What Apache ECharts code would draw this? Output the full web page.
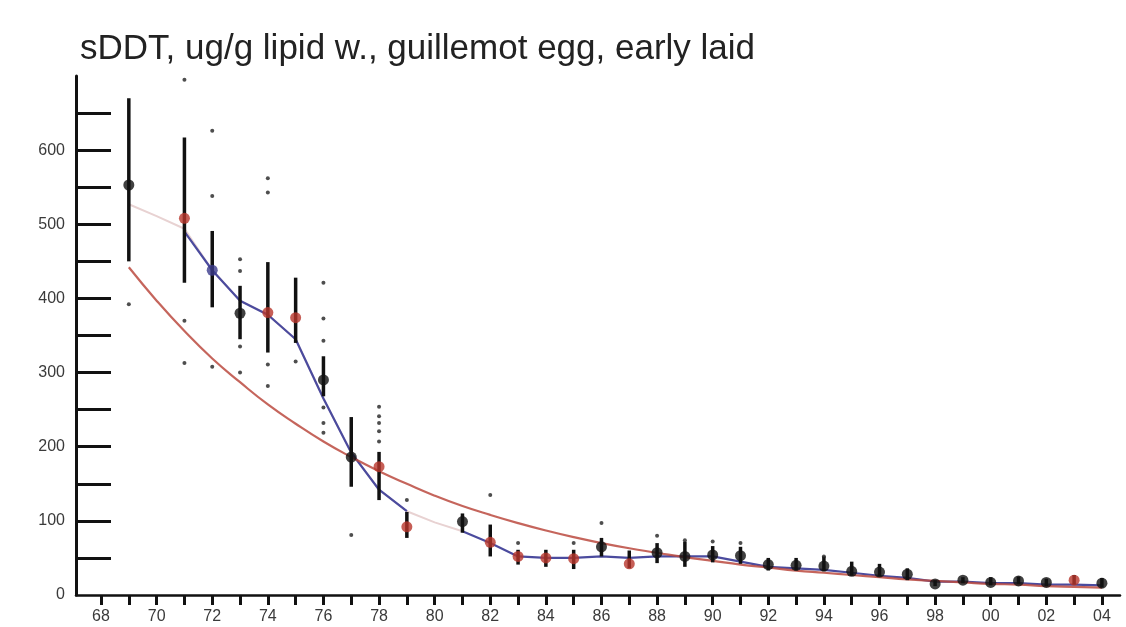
<!DOCTYPE html>
<html>
<head>
<meta charset="utf-8">
<script src="https://cdn.jsdelivr.net/npm/echarts@6/dist/echarts.min.js"></script>
<style>
  html, body { margin: 0; padding: 0; background: #fff; }
  #main { width: 1126px; height: 627px; }
</style>
</head>
<body>
<div id="main"></div>
<script>
// yearly means with their range bars; marker colour group per year
const years    = [1969, 1971, 1972, 1973, 1974, 1975, 1976, 1977, 1978, 1979, 1981, 1982, 1983, 1984, 1985, 1986, 1987, 1988, 1989, 1990, 1991, 1992, 1993, 1994, 1995, 1996, 1997, 1998, 1999, 2000, 2001, 2002, 2003, 2004];
const means    = [553, 508, 438, 380, 381, 374, 290, 186, 173, 92, 99, 71, 52, 50, 49, 65, 42, 57, 52, 54, 53, 41, 40, 39, 32, 31, 28, 15, 20, 17, 19, 17, 20, 16];
const lows     = [450, 421, 388, 345, 327, 340, 268, 146, 128, 77, 84, 52, 41, 38, 35, 52, 36, 43, 38, 44, 42, 33, 33, 32, 26, 25, 20, 12, 16, 13, 15, 12, 14, 10];
const highs    = [670, 617, 491, 417, 449, 428, 322, 240, 193, 112, 110, 95, 61, 61, 61, 77, 60, 70, 72, 66, 65, 50, 50, 52, 45, 42, 36, 20, 24, 24, 25, 22, 27, 23];
const redYears  = [1971, 1974, 1975, 1978, 1979, 1982, 1983, 1984, 1985, 1987, 2003];
const blueYears = [1972];

// single samples outside the bars
const dots = [
  [1969, 392],
  [1971, 695], [1971, 370], [1971, 313],
  [1972, 626], [1972, 538], [1972, 308],
  [1973, 453], [1973, 437], [1973, 335], [1973, 300],
  [1974, 562], [1974, 543], [1974, 311], [1974, 282],
  [1975, 315],
  [1976, 421], [1976, 373], [1976, 343], [1976, 253], [1976, 232], [1976, 219],
  [1977, 81],
  [1978, 254], [1978, 241], [1978, 232], [1978, 221], [1978, 207],
  [1979, 128], [1982, 135], [1983, 70], [1985, 70], [1986, 97],
  [1988, 80], [1989, 74], [1990, 72], [1991, 70], [1994, 52]
];

// smoother (blue), break at 1980
const smoothYears = [1971, 1972, 1973, 1974, 1975, 1976, 1977, 1978, 1979, 1980, 1981, 1982, 1983, 1984, 1985, 1986, 1987, 1988, 1989, 1990, 1991, 1992, 1993, 1994, 1995, 1996, 1997, 1998, 1999, 2000, 2001, 2002, 2003, 2004];
const smoothVals  = [490, 438, 397, 378, 345, 265, 192, 142, 113, null, 86, 70, 52, 50, 50, 52, 50, 52, 52, 52, 45, 38, 36, 34, 30, 26, 23, 18, 18, 16, 16, 14, 14, 13];

// faint full-period smoother
const faintYears = [1969, 1970, 1971, 1972, 1973, 1974, 1975, 1976, 1977, 1978, 1979, 1980, 1981];
const faintVals  = [527, 511, 494, 438, 397, 378, 345, 265, 192, 142, 113, 98, 86];

// red trend curve
const trendYears = [1969, 1970, 1971, 1972, 1973, 1974, 1975, 1976, 1977, 1978, 1979, 1980, 1981, 1982, 1983, 1984, 1985, 1986, 1987, 1988, 1989, 1990, 1991, 1992, 1993, 1994, 1995, 1996, 1997, 1998, 1999, 2000, 2001, 2002, 2003, 2004];
const trendVals  = [442, 397, 356, 319, 287, 257, 231, 207, 186, 167, 150, 134, 120, 108, 97, 87, 78, 70, 63, 57, 51, 46, 41, 37, 33, 30, 27, 24, 21, 19, 17, 15, 14, 12, 11, 10];

const xTicks  = [1968, 1969, 1970, 1971, 1972, 1973, 1974, 1975, 1976, 1977, 1978, 1979, 1980, 1981, 1982, 1983, 1984, 1985, 1986, 1987, 1988, 1989, 1990, 1991, 1992, 1993, 1994, 1995, 1996, 1997, 1998, 1999, 2000, 2001, 2002, 2003, 2004];
const xLabels = [1968, 1970, 1972, 1974, 1976, 1978, 1980, 1982, 1984, 1986, 1988, 1990, 1992, 1994, 1996, 1998, 2000, 2002, 2004];
const yTicks  = [50, 100, 150, 200, 250, 300, 350, 400, 450, 500, 550, 600, 650];
const yLabels = [0, 100, 200, 300, 400, 500, 600];

function markerColor(y) {
  if (redYears.indexOf(y) >= 0) return '#b8362c';
  if (blueYears.indexOf(y) >= 0) return '#3b3b8c';
  return '#111';
}

const zip = (xs, vs) => xs.map((x, i) => [x, vs[i]]);

let myChart = echarts.init(document.getElementById('main'));
myChart.setOption({
  animation: false,
  backgroundColor: '#fff',
  title: {
    text: 'sDDT, ug/g lipid w., guillemot egg, early laid',
    left: 75,
    top: 27,
    textStyle: {
      fontFamily: 'Liberation Sans, Arial, sans-serif',
      fontSize: 35,
      fontWeight: 'normal',
      color: '#222'
    }
  },
  grid: { left: 76, right: 6, top: 76, bottom: 32 },
  xAxis: {
    type: 'value',
    min: 1967.1,
    max: 2004.65,
    axisLine: { lineStyle: { color: '#111', width: 2.5 } },
    axisTick: { customValues: xTicks, length: 10, lineStyle: { color: '#111', width: 3 } },
    axisLabel: {
      customValues: xLabels,
      formatter: v => String(v).slice(2),
      color: '#3a3a3a',
      fontSize: 16,
      margin: 14,
      fontFamily: 'Liberation Sans, Arial, sans-serif'
    },
    splitLine: { show: false }
  },
  yAxis: {
    type: 'value',
    min: 0,
    max: 700,
    axisLine: { show: true, lineStyle: { color: '#111', width: 3 } },
    axisTick: { show: true, inside: true, customValues: yTicks, length: 35, lineStyle: { color: '#111', width: 3 } },
    axisLabel: {
      customValues: yLabels,
      color: '#3a3a3a',
      fontSize: 16,
      margin: 11,
      fontFamily: 'Liberation Sans, Arial, sans-serif'
    },
    splitLine: { show: false }
  },
  series: [
    {
      name: 'faint',
      type: 'line',
      data: zip(faintYears, faintVals),
      symbol: 'none',
      lineStyle: { color: '#e8d2d2', width: 2 },
      z: 1
    },
    {
      name: 'smooth',
      type: 'line',
      data: zip(smoothYears, smoothVals),
      symbol: 'none',
      connectNulls: false,
      lineStyle: { color: '#4b4b9e', width: 2.2 },
      z: 2
    },
    {
      name: 'trend',
      type: 'line',
      data: zip(trendYears, trendVals),
      symbol: 'none',
      smooth: true,
      lineStyle: { color: '#bb4a40', width: 2.2, opacity: 0.85 },
      z: 3
    },
    {
      name: 'range',
      type: 'custom',
      data: years.map((y, i) => [y, lows[i], highs[i]]),
      renderItem: function (params, api) {
        const a = api.coord([api.value(0), api.value(1)]);
        const b = api.coord([api.value(0), api.value(2)]);
        return {
          type: 'line',
          shape: { x1: a[0], y1: a[1], x2: b[0], y2: b[1] },
          style: { stroke: '#111', lineWidth: 3.5 }
        };
      },
      z: 4
    },
    {
      name: 'samples',
      type: 'scatter',
      data: dots,
      symbol: 'circle',
      symbolSize: 4,
      itemStyle: { color: '#222' },
      z: 5
    },
    {
      name: 'mean',
      type: 'scatter',
      data: years.map((y, i) => ({ value: [y, means[i]], itemStyle: { color: markerColor(y) } })),
      symbol: 'circle',
      symbolSize: 11,
      z: 6
    }
  ]
});
</script>
</body>
</html>
